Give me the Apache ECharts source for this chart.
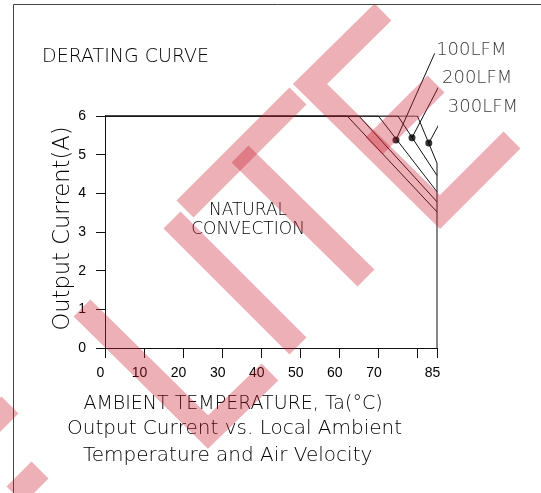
<!DOCTYPE html>
<html>
<head>
<meta charset="utf-8">
<script src="https://cdn.jsdelivr.net/npm/echarts@6/dist/echarts.min.js"></script>
<style>
  html, body { margin: 0; padding: 0; background: #fff; }
  #chart { width: 541px; height: 493px; }
</style>
</head>
<body>
<div id="chart"></div>
<script>
// Derating curves: output current (A) vs. ambient temperature (°C)
const naturalConvA = [[0, 6], [62, 6], [85, 3.52]];
const naturalConvB = [[0, 6], [65, 6], [85, 3.78]];
const airflow100 = [[0, 6], [70, 6], [85, 4.04]];
const airflow200 = [[0, 6], [75, 6], [85, 4.46]];
const airflow300 = [[0, 6], [80, 6], [85, 4.78], [85, 0]];

// marked points on the airflow curves and the ends of their callout lines
const airflowNames = ['100LFM', '200LFM', '300LFM'];
const markerPoints = [[74.5, 5.38], [78.6, 5.44], [82.9, 5.30]];
const calloutEnds = [[84.4, 7.62], [85.9, 6.85], [87.4, 6.14]];

const xTickLabels = [0, 10, 20, 30, 40, 50, 60, 70, 85];
const yTickLabels = [0, 1, 2, 3, 4, 5, 6];

const INK = '#111';
const TEXT = '#000';
const FONT = '"DejaVu Sans", "Liberation Sans", sans-serif';
const WM = 'rgba(200, 30, 45, 0.35)';

const chart = echarts.init(document.getElementById('chart'), null, { renderer: 'canvas' });

const curveSeries = [naturalConvA, naturalConvB, airflow100, airflow200, airflow300].map(d => ({
  type: 'line',
  data: d,
  symbol: 'none',
  silent: true,
  lineStyle: { color: INK, width: 1 },
  z: 3
}));

const calloutSeries = markerPoints.map((p, i) => ({
  type: 'line',
  data: [p, calloutEnds[i]],
  symbol: 'none',
  clip: false,
  silent: true,
  lineStyle: { color: INK, width: 1 },
  z: 4
}));

const labelLift = [-3, -5, -3];

// watermark strokes
function band(points) {
  return {
    type: 'polyline',
    shape: { points },
    style: { stroke: WM, lineWidth: 24, fill: null, lineCap: 'butt', lineJoin: 'miter' },
    silent: true,
    z: 100
  };
}

const option = {
  animation: false,
  backgroundColor: '#fff',
  title: {
    text: 'DERATING CURVE',
    left: 42,
    top: 48,
    padding: 0,
    textStyle: { color: TEXT, fontFamily: FONT, fontSize: 19, fontWeight: 200 }
  },
  grid: { left: 105, right: 104, top: 116, bottom: 145 },
  xAxis: {
    type: 'value',
    min: 0,
    max: 85,
    interval: 10,
    name: 'AMBIENT TEMPERATURE, Ta(°C)',
    nameLocation: 'middle',
    nameGap: 47,
    nameTextStyle: { color: TEXT, fontFamily: FONT, fontSize: 19, fontWeight: 200, padding: [0, 76, 0, 0] },
    axisLine: { onZero: false, lineStyle: { color: INK, width: 1 } },
    axisTick: { show: true, inside: false, length: 10, lineStyle: { color: INK } },
    splitLine: { show: false },
    axisLabel: {
      showMaxLabel: true,
      showMinLabel: true,
      margin: 18,
      padding: [0, 9, 0, 0],
      color: TEXT,
      fontFamily: '"Liberation Sans", sans-serif',
      fontSize: 14,
      formatter: v => (xTickLabels.includes(v) ? String(v) : '')
    }
  },
  yAxis: {
    type: 'value',
    min: 0,
    max: 6,
    interval: 1,
    name: 'Output Current(A)',
    nameLocation: 'middle',
    nameGap: 30,
    nameMoveOverlap: false,
    nameRotate: 90,
    nameTextStyle: { color: TEXT, fontFamily: FONT, fontSize: 22.6, fontWeight: 200, padding: [0, 0, 0, 7] },
    axisLine: { onZero: false, lineStyle: { color: INK, width: 1 } },
    axisTick: { show: true, inside: false, length: 9, lineStyle: { color: INK } },
    splitLine: { show: false },
    axisLabel: {
      margin: 19,
      color: TEXT,
      fontFamily: '"Liberation Sans", sans-serif',
      fontSize: 14,
      formatter: v => (yTickLabels.includes(v) ? String(v) : '')
    }
  },
  series: [
    ...curveSeries,
    ...calloutSeries,
    {
      type: 'scatter',
      data: markerPoints,
      symbol: 'circle',
      symbolSize: 7,
      silent: true,
      itemStyle: { color: '#000' },
      z: 5
    },
    {
      // callout captions at the outer ends of the callout lines
      type: 'scatter',
      data: calloutEnds.map((p, i) => ({
        value: p,
        name: airflowNames[i],
        label: { offset: [0, labelLift[i]] }
      })),
      symbol: 'circle',
      symbolSize: 1,
      clip: false,
      silent: true,
      itemStyle: { color: 'rgba(0,0,0,0)' },
      label: {
        show: true,
        position: 'right',
        distance: 1,
        formatter: '{b}',
        color: TEXT,
        fontFamily: FONT,
        fontSize: 18,
        fontWeight: 200
      },
      z: 5
    }
  ],
  graphic: [
    // sheet frame
    { type: 'line', shape: { x1: 13.5, y1: 4.5, x2: 13.5, y2: 493 }, style: { stroke: '#444', lineWidth: 1 }, silent: true },
    { type: 'line', shape: { x1: 13.5, y1: 4.5, x2: 541, y2: 4.5 }, style: { stroke: '#444', lineWidth: 1 }, silent: true },
    // in-plot annotation
    { type: 'text', x: 248, y: 211, style: { text: 'NATURAL', fill: TEXT, font: '200 17px ' + FONT, align: 'center', verticalAlign: 'middle' }, silent: true },
    { type: 'text', x: 248, y: 230, style: { text: 'CONVECTION', fill: TEXT, font: '200 17px ' + FONT, align: 'center', verticalAlign: 'middle' }, silent: true },
    // caption
    { type: 'text', x: 67, y: 429, style: { text: 'Output Current vs. Local Ambient', fill: TEXT, font: '200 20px ' + FONT, align: 'left', verticalAlign: 'middle' }, silent: true },
    { type: 'text', x: 83, y: 456, style: { text: 'Temperature and Air Velocity', fill: TEXT, font: '200 20px ' + FONT, align: 'left', verticalAlign: 'middle' }, silent: true },
    // watermark
    band([[82, 308], [208, 432], [270, 372]]),
    band([[172, 220], [298, 346]]),
    band([[240, 154], [366, 278]]),
    band([[185, 209], [298, 96]]),
    band([[383, 12], [310, 84], [440, 212], [512, 140]]),
    band([[374, 146], [436, 84]]),
    band([[-15, 430], [10, 405]]),
    band([[15, 495], [40, 470]])
  ]
};

chart.setOption(option);
</script>
</body>
</html>
